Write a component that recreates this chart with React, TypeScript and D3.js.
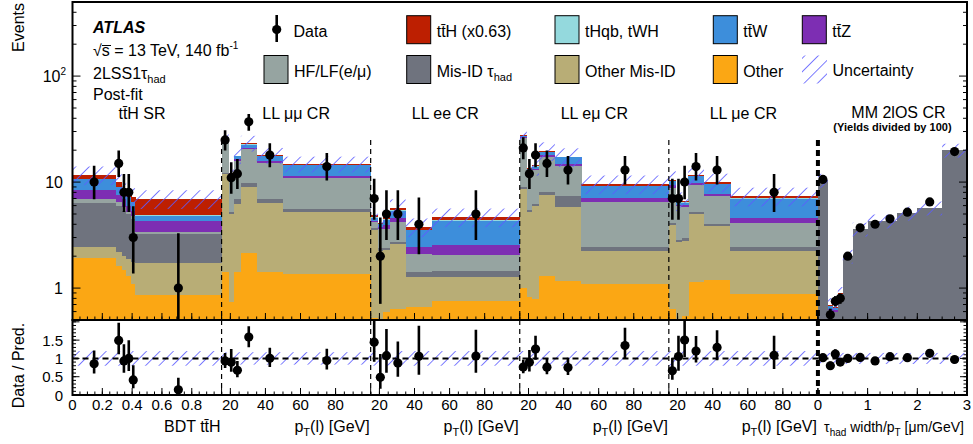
import React from "react";
import * as d3 from "d3";

// regions along the x axis, each with its own variable
const regionLabels = ["tt\u0304H SR", "LL \u03bc\u03bc CR", "LL ee CR", "LL e\u03bc CR", "LL \u03bce CR", "MM 2lOS CR"];
const regionDomains: [number, number][] = [[0, 1], [15, 100], [15, 100], [15, 100], [15, 100], [0, 3]];
const regionEdges = [
  [0, 0.29, 0.33, 0.36, 0.395, 0.42, 1.0],
  [15, 19, 22, 26, 35, 50, 100],
  [15, 19, 22, 26, 35, 50, 100],
  [15, 19, 22, 26, 35, 50, 100],
  [15, 19, 22, 26, 35, 50, 100],
  [0, 0.2, 0.3, 0.4, 0.5, 0.7, 1.0, 1.3, 1.6, 2.0, 2.5, 3.0],
];
const regionTicks = [[0, 0.2, 0.4, 0.6, 0.8], [20, 40, 60, 80], [20, 40, 60, 80], [20, 40, 60, 80], [20, 40, 60, 80], [0, 1, 2, 3]];
const regionMajor = [0.2, 20, 20, 20, 20, 1];
const regionMinor = [0.05, 5, 5, 5, 5, 0.25];
const regionUnc = [0.2, 0.17, 0.2, 0.2, 0.2, 0.15];

// post-fit yields per bin (SR 6, mumu 6, ee 6, emu 6, mue 6, MM 11)
const other = [1.91, 1.62, 1.49, 1.31, 1.09, 0.87, 1.41, 0.74, 1.41, 2.14, 1.43, 1.36, 0.52, 0.45, 0.6, 0.63, 0.67, 0.76, 1.0, 0.82, 0.79, 1.31, 1.17, 1.09, 0.64, 0.5, 0.55, 1.15, 1.2, 0.88, 0, 0, 0, 0, 0, 0, 0, 0, 0, 0, 0];
const otherMisID = [0.51, 0.55, 0.53, 0.57, 0.66, 0.85, 10.49, 4.26, 4.79, 6.86, 4.87, 3.89, 2.98, 1.8, 1.7, 1.97, 0.61, 0.5, 7.6, 4.38, 5.21, 6.29, 4.59, 1.16, 3.26, 2.2, 2.25, 3.85, 2.67, 1.37, 0, 0, 0, 0, 0, 0, 0, 0, 0, 0, 0];
const misIDtau = [3.92, 3.8, 3.33, 3.12, 2.72, 1.51, 0.3, 0.18, 0.8, 0.8, 0.6, 0.31, 0.2, 0.15, 0.1, 0.1, 0.15, 0.2, 0.4, 0.3, 0.2, 0.4, 1.57, 0.2, 0.2, 0.15, 0.15, 0.2, 0.13, 0.17, 10.4, 0.62, 0.6, 0.85, 2.0, 3.6, 4.3, 4.3, 5.1, 5.7, 20.0];
const hflf = [0.56, 0.47, 0.41, 0.25, 0.33, 0.12, 13.8, 6.32, 8.9, 10.7, 8.2, 5.34, 0.5, 1.2, 1.2, 1.52, 0.66, 0.6, 17.0, 7.0, 6.7, 9.4, 6.97, 3.99, 4.7, 3.05, 2.85, 4.2, 3.42, 1.65, 0, 0, 0, 0, 0, 0, 0, 0, 0, 0, 0];
const ttZ = [1.5, 1.09, 1.14, 0.72, 0.55, 0.95, 0.2, 0.2, 0.6, 0.5, 0.7, 0.6, 0.1, 0.15, 0.3, 0.33, 0.36, 0.5, 0.4, 0.3, 0.4, 0.6, 0.5, 0.62, 0.6, 0.2, 0.3, 0.5, 0.28, 0.47, 0, 0.02, 0.02, 0.01, 0, 0, 0, 0, 0, 0, 0];
const ttW = [2.2, 1.47, 1.1, 1.19, 1.09, 0.5, 0.4, 0.3, 1.0, 1.6, 1.7, 3.0, 0.3, 0.25, 0.5, 0.8, 1.07, 1.74, 0.8, 0.4, 0.7, 1.3, 2.3, 2.14, 0.8, 0.35, 0.3, 1.4, 1.86, 2.46, 0, 0.04, 0.03, 0.02, 0, 0, 0, 0, 0, 0, 0];
const tHqb = [0.08, 0.08, 0.08, 0.08, 0.08, 0.08, 0.05, 0.05, 0.05, 0.05, 0.05, 0.05, 0.05, 0.05, 0.05, 0.05, 0.05, 0.05, 0.05, 0.05, 0.05, 0.05, 0.05, 0.05, 0.05, 0.05, 0.05, 0.05, 0.05, 0.05, 0, 0, 0, 0, 0, 0, 0, 0, 0, 0, 0];
const ttH = [1.02, 0.98, 0.52, 0.76, 0.78, 2.1, 0.2, 0.2, 0.2, 0.7, 0.4, 0.3, 0.2, 0.1, 0.2, 0.33, 0.21, 0.34, 0.3, 0.2, 0.3, 0.4, 0.2, 0.36, 0.3, 0.15, 0.2, 0.3, 0.38, 0.33, 0, 0.02, 0.02, 0.01, 0, 0, 0, 0, 0, 0, 0];

// observed data with 68% error interval
const data = [10, 15, 8, 8, 3, 1, 25, 11, 12, 37, 18, 14, 7, 2, 5, 5, 4, 5, 21, 12, 18, 15, 13, 13, 7, 7, 10, 14, 13, 8, 10.6, 0.56, 0.75, 0.8, 2.0, 3.7, 4.0, 4.5, 5.2, 6.5, 19.4];
const dataLo = [6.89, 11.19, 5.23, 5.23, 1.37, 0.17, 19.86, 7.75, 8.62, 30.45, 13.78, 10.33, 4.42, 0.71, 2.84, 2.84, 2.09, 2.84, 16.38, 8.62, 13.78, 11.19, 9.47, 9.47, 4.42, 4.42, 6.89, 10.33, 9.47, 5.23, 10.28, 0.49, 0.67, 0.71, 1.86, 3.51, 3.8, 4.29, 4.97, 6.25, 18.96];
const dataHi = [14.27, 19.89, 11.95, 11.95, 5.92, 3.3, 30.87, 15.42, 16.55, 43.92, 23.22, 18.78, 10.77, 4.64, 8.38, 8.38, 7.16, 8.38, 26.51, 16.55, 23.22, 19.89, 17.67, 17.67, 10.77, 10.77, 14.27, 18.78, 17.67, 11.95, 10.93, 0.64, 0.84, 0.89, 2.14, 3.89, 4.2, 4.71, 5.43, 6.75, 19.84];

const keys = ["other", "otherMisID", "misIDtau", "hflf", "ttZ", "ttW", "tHqb", "ttH"];
const colors: Record<string, string> = {
  ttH: "#bd1f01", tHqb: "#94d9dd", ttW: "#3d8edb", ttZ: "#7d2eb3",
  hflf: "#96a4a1", misIDtau: "#6f737e", otherMisID: "#b8ad76", other: "#fba714",
};
const hatchColor = "#5c5cff";
const font = "Liberation Sans, Arial, Helvetica, sans-serif";

const L = 72.5, R = 967, SW = (R - L) / 6;
const topY = 2, midY = 320, botY = 395;

const yMain = d3.scaleLog().domain([0.5, 500]).range([midY, topY]);
const yRatio = d3.scaleLinear().domain([0, 2.05]).range([botY, midY]);
const xScales = regionDomains.map((dom, i) => d3.scaleLinear().domain(dom).range([L + i * SW, L + (i + 1) * SW]));

const series: Record<string, number[]> = { other, otherMisID, misIDtau, hflf, ttZ, ttW, tHqb, ttH };
const rows: any[] = [];
regionEdges.forEach((edges, r) => {
  for (let b = 0; b < edges.length - 1; b++) {
    const i = rows.length;
    const row: any = { region: r, lo: edges[b], hi: edges[b + 1] };
    keys.forEach(k => (row[k] = series[k][i]));
    rows.push(row);
  }
});
const stacked = d3.stack<any>().keys(keys)(rows);
const totals = stacked[stacked.length - 1].map(d => d[1]);

const clampV = (v: number) => Math.max(v, 0.01);

export default function App() {
  const bx = (i: number) => [xScales[rows[i].region](rows[i].lo), xScales[rows[i].region](rows[i].hi)];
  const cx = (i: number) => xScales[rows[i].region]((rows[i].lo + rows[i].hi) / 2);

  // y ticks
  const logMajor = [1, 10, 100];
  const logMinor: number[] = [];
  [0.1, 1, 10, 100].forEach(dec => d3.range(2, 10).forEach(k => { const v = k * dec; if (v >= 0.5 && v <= 500) logMinor.push(v); }));
  const ratioMajor = [0, 0.5, 1, 1.5, 2];
  const ratioMinor = d3.range(0, 2.05, 0.1);

  const legend1 = [
    { key: "ttH", label: <>tt&#x304;H (x0.63)</>, x: 406.7 },
    { key: "tHqb", label: <>tHqb, tWH</>, x: 555 },
    { key: "ttW", label: <>tt&#x304;W</>, x: 713.3 },
    { key: "ttZ", label: <>tt&#x304;Z</>, x: 802.3 },
  ];
  const legend2 = [
    { key: "hflf", label: <>HF/LF(e/&#x3bc;)</>, x: 264 },
    { key: "misIDtau", label: <>Mis-ID &#x3c4;<tspan fontSize="11" dy="4">had</tspan></>, x: 406.7 },
    { key: "otherMisID", label: <>Other Mis-ID</>, x: 555 },
    { key: "other", label: <>Other</>, x: 713.3 },
  ];

  return (
    <svg width={973} height={444} style={{ position: "absolute", left: 0, top: 0, background: "#fff" }} fontFamily={font}>
      <defs>
        <pattern id="hatch" patternUnits="userSpaceOnUse" width="9.5" height="9.5" patternTransform="rotate(45)">
          <line x1="0" y1="0" x2="0" y2="9.5" stroke={hatchColor} strokeWidth="1.6" />
        </pattern>
        <clipPath id="clipMain"><rect x={L} y={topY} width={R - L} height={midY - topY} /></clipPath>
        <clipPath id="clipRatio"><rect x={L} y={midY} width={R - L} height={botY - midY} /></clipPath>
      </defs>

      {/* stacked prediction */}
      <g clipPath="url(#clipMain)" shapeRendering="crispEdges">
        {stacked.map(s => s.map((d, i) => {
          if (d[1] - d[0] <= 0) return null;
          const [x0, x1] = bx(i);
          const y1 = yMain(clampV(d[1])), y0 = yMain(clampV(d[0]));
          return <rect key={s.key + i} x={x0} y={y1} width={x1 - x0 + 0.4} height={y0 - y1} fill={colors[s.key]} />;
        }))}
      </g>
      {/* uncertainty band */}
      <g clipPath="url(#clipMain)">
        {totals.map((t, i) => {
          const [x0, x1] = bx(i);
          const u = regionUnc[rows[i].region];
          const a = yMain(t * (1 + u)), b = yMain(t * (1 - u));
          return <rect key={i} x={x0} y={a} width={x1 - x0} height={b - a} fill="url(#hatch)" />;
        })}
      </g>
      <g clipPath="url(#clipRatio)">
        {totals.map((t, i) => {
          const [x0, x1] = bx(i);
          const u = regionUnc[rows[i].region];
          const a = yRatio(1 + u), b = yRatio(1 - u);
          return <rect key={i} x={x0} y={a} width={x1 - x0} height={b - a} fill="url(#hatch)" />;
        })}
        <line x1={L} x2={R} y1={yRatio(1)} y2={yRatio(1)} stroke="#000" strokeWidth="2" strokeDasharray="6 4" />
      </g>

      {/* region separators */}
      {[1, 2, 3, 4].map(i => (
        <line key={i} x1={L + i * SW} x2={L + i * SW} y1={140} y2={botY} stroke="#000" strokeWidth="1.2" strokeDasharray="5 4" />
      ))}
      <line x1={L + 5 * SW} x2={L + 5 * SW} y1={140} y2={botY} stroke="#000" strokeWidth="4" strokeDasharray="6 4" />

      {/* data */}
      <g clipPath="url(#clipMain)">
        {data.map((v, i) => (
          <g key={i}>
            <line x1={cx(i)} x2={cx(i)} y1={yMain(clampV(dataLo[i]))} y2={yMain(dataHi[i])} stroke="#000" strokeWidth="2.6" />
            <circle cx={cx(i)} cy={yMain(v)} r={4.6} fill="#000" />
          </g>
        ))}
      </g>
      <g clipPath="url(#clipRatio)">
        {data.map((v, i) => (
          <g key={i}>
            <line x1={cx(i)} x2={cx(i)} y1={yRatio(dataLo[i] / totals[i])} y2={yRatio(dataHi[i] / totals[i])} stroke="#000" strokeWidth="2.6" />
            <circle cx={cx(i)} cy={yRatio(v / totals[i])} r={4.6} fill="#000" />
          </g>
        ))}
      </g>

      {/* frames */}
      <rect x={L} y={topY} width={R - L} height={midY - topY} fill="none" stroke="#000" strokeWidth="2" />
      <rect x={L} y={midY} width={R - L} height={botY - midY} fill="none" stroke="#000" strokeWidth="2" />

      {/* ticks */}
      <g stroke="#000" strokeWidth="1">
        {logMajor.map(v => <g key={v}><line x1={L} x2={L + 8} y1={yMain(v)} y2={yMain(v)} /><line x1={R} x2={R - 8} y1={yMain(v)} y2={yMain(v)} /></g>)}
        {logMinor.map(v => <g key={v}><line x1={L} x2={L + 4} y1={yMain(v)} y2={yMain(v)} /><line x1={R} x2={R - 4} y1={yMain(v)} y2={yMain(v)} /></g>)}
        {ratioMajor.map(v => <g key={v}><line x1={L} x2={L + 7} y1={yRatio(v)} y2={yRatio(v)} /><line x1={R} x2={R - 7} y1={yRatio(v)} y2={yRatio(v)} /></g>)}
        {ratioMinor.map(v => <g key={v}><line x1={L} x2={L + 3.5} y1={yRatio(v)} y2={yRatio(v)} /><line x1={R} x2={R - 3.5} y1={yRatio(v)} y2={yRatio(v)} /></g>)}
        {xScales.map((xs, r) => {
          const [d0, d1] = regionDomains[r];
          const maj = d3.range(Math.ceil(d0 / regionMajor[r] - 1e-9) * regionMajor[r], d1 + 1e-9, regionMajor[r]);
          const min = d3.range(d0, d1 + 1e-9, regionMinor[r]);
          return (
            <g key={r}>
              {maj.map(v => <g key={"M" + v}><line x1={xs(v)} x2={xs(v)} y1={botY} y2={botY - 7} /><line x1={xs(v)} x2={xs(v)} y1={midY} y2={midY - 7} /></g>)}
              {min.map(v => <g key={"m" + v}><line x1={xs(v)} x2={xs(v)} y1={botY} y2={botY - 3.5} /><line x1={xs(v)} x2={xs(v)} y1={midY} y2={midY - 3.5} /></g>)}
            </g>
          );
        })}
      </g>

      {/* y tick labels */}
      <g fontSize="16" textAnchor="end" fill="#000">
        <text x={66} y={yMain(100) + 6}>10<tspan fontSize="10" dy="-7">2</tspan></text>
        <text x={63} y={yMain(10) + 6}>10</text>
        <text x={63} y={yMain(1) + 6}>1</text>
      </g>
      <g fontSize="15" textAnchor="end" fill="#000">
        {[0, 0.5, 1, 1.5].map(v => <text key={v} x={63} y={yRatio(v) + 5.5}>{v}</text>)}
      </g>
      {/* x tick labels */}
      <g fontSize="15" textAnchor="middle" fill="#000">
        {regionTicks.map((ts, r) => ts.map(v => <text key={r + "-" + v} x={xScales[r](v)} y={410}>{v}</text>))}
      </g>

      {/* axis titles */}
      <text transform={`translate(24,3) rotate(-90)`} textAnchor="end" fontSize="16">Events</text>
      <text transform={`translate(24,${(midY + botY) / 2 + 8}) rotate(-90)`} textAnchor="middle" fontSize="16">Data / Pred.</text>
      <g fontSize="16" textAnchor="end">
        <text x={L + SW - 1} y={432}>BDT tt&#x304;H</text>
        {[1, 2, 3, 4].map(r => (
          <text key={r} x={L + (r + 1) * SW - 1} y={432}>p<tspan fontSize="11" dy="4">T</tspan><tspan dy="-4">(l) [GeV]</tspan></text>
        ))}
        <text x={R - 3} y={432} fontSize="14">&#x3c4;<tspan fontSize="10" dy="4">had</tspan><tspan dy="-4"> width/p</tspan><tspan fontSize="10" dy="4">T</tspan><tspan dy="-4"> [&#x3bc;m/GeV]</tspan></text>
      </g>

      {/* ATLAS label */}
      <g fontSize="16">
        <text x={93} y={33} fontWeight="bold" fontStyle="italic">ATLAS</text>
        <text x={93} y={56}>&#x221a;s = 13 TeV, 140 fb<tspan fontSize="10" dy="-7">-1</tspan></text>
        <text x={93} y={79}>2LSS1&#x3c4;<tspan fontSize="11" dy="4">had</tspan></text>
        <text x={93} y={100}>Post-fit</text>
      </g>
      <line x1={102} x2={111} y1={45.5} y2={45.5} stroke="#000" strokeWidth="1" />

      {/* region labels */}
      <g fontSize="16" textAnchor="middle">
        {regionLabels.map((lab, r) => (
          <text key={r} x={L + (r + 0.5) * SW + (r === 0 ? -5 : r === 5 ? 6 : 0)} y={r === 5 ? 118 : 119}>{lab}</text>
        ))}
        <text x={L + 5.5 * SW} y={131} fontSize="11" fontWeight="bold">(Yields divided by 100)</text>
      </g>

      {/* legend */}
      <g fontSize="16">
        <line x1={276.7} x2={276.7} y1={15} y2={42} stroke="#000" strokeWidth="2.6" />
        <circle cx={276.7} cy={29.5} r={4.6} fill="#000" />
        <text x={293.5} y={36.5}>Data</text>
        {legend1.map(l => (
          <g key={l.key}>
            <rect x={l.x} y={15.7} width={24} height={28} fill={colors[l.key]} stroke="#000" strokeWidth="1" />
            <text x={l.x + 30} y={36.5}>{l.label}</text>
          </g>
        ))}
        {legend2.map(l => (
          <g key={l.key}>
            <rect x={l.x} y={55.5} width={24} height={28} fill={colors[l.key]} stroke="#000" strokeWidth="1" />
            <text x={l.x + 30} y={76.5}>{l.label}</text>
          </g>
        ))}
        <rect x={802} y={55.5} width={25} height={28} fill="url(#hatch)" />
        <text x={832.5} y={76}>Uncertainty</text>
      </g>
    </svg>
  );
}
